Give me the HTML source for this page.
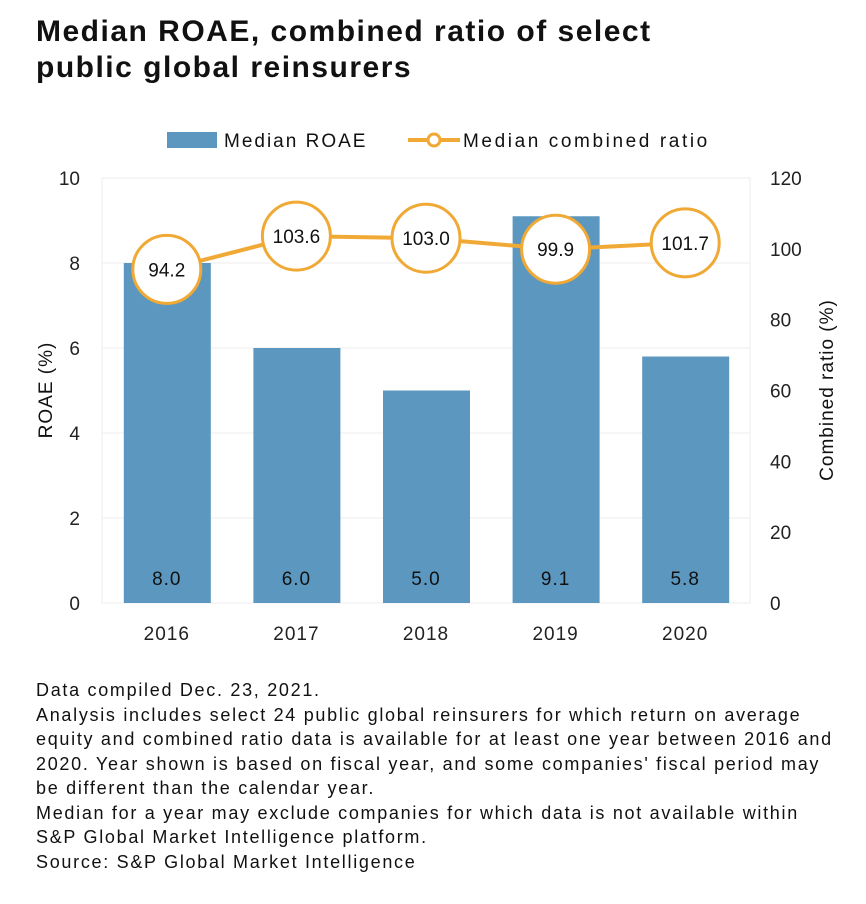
<!DOCTYPE html>
<html><head><meta charset="utf-8"><style>
body{margin:0;background:#fff;font-family:"Liberation Sans",sans-serif;}
#wrap{position:relative;width:866px;height:904px;overflow:hidden;}
h1{position:absolute;left:36px;top:14px;margin:0;font-size:30px;line-height:36px;font-weight:bold;color:#111;letter-spacing:1.5px;}
.notes{position:absolute;left:36px;top:678px;font-size:18px;line-height:24.5px;color:#111;white-space:nowrap;letter-spacing:1.7px;}
</style></head><body><div id="wrap">
<h1>Median ROAE, combined ratio of select<br>public global reinsurers</h1>
<svg id="chart" width="866" height="680" style="position:absolute;left:0;top:0"></svg>
<div class="notes">Data compiled Dec. 23, 2021.<br>Analysis includes select 24 public global reinsurers for which return on average<br>equity and combined ratio data is available for at least one year between 2016 and<br>2020. Year shown is based on fiscal year, and some companies' fiscal period may<br>be different than the calendar year.<br>Median for a year may exclude companies for which data is not available within<br>S&amp;P Global Market Intelligence platform.<br>Source: S&amp;P Global Market Intelligence</div>
</div>
<script>
const categories=["2016","2017","2018","2019","2020"];
const roae=[8.0,6.0,5.0,9.1,5.8];
const combined=[94.2,103.6,103.0,99.9,101.7];
const leftTicks=[0,2,4,6,8,10];
const rightTicks=[0,20,40,60,80,100,120];
const NS="http://www.w3.org/2000/svg";
const svg=document.getElementById('chart');
const X0=102,X1=750,Y0=603,Y1=178;
const yL=v=>Y0-(v/10)*(Y0-Y1);
const yR=v=>Y0-(v/120)*(Y0-Y1);
const bw=(X1-X0)/categories.length;
const xc=i=>X0+bw*(i+0.5);
function mk(t,a,txt){const e=document.createElementNS(NS,t);for(const k in a)e.setAttribute(k,a[k]);if(txt!==undefined)e.textContent=txt;svg.appendChild(e);return e;}
let e;
e=mk('rect',{x:X0,y:Y1,width:X1-X0,height:Y0-Y1,fill:'none',stroke:'#eee'});


leftTicks.forEach(v=>{
 e=mk('line',{x1:X0,x2:X1,y1:yL(v),y2:yL(v),stroke:'#eee'});
 
 
 e=mk('text',{x:80,y:yL(v)+7,'text-anchor':'end','font-size':19,fill:'#222'},v);
 
 
});
rightTicks.forEach(v=>{
 e=mk('text',{x:770,y:yR(v)+7,'font-size':19,fill:'#222'},v);
 
 
});
categories.forEach((c,i)=>{
 e=mk('rect',{x:xc(i)-43,y:yL(roae[i]),width:87,height:Y0-yL(roae[i]),fill:'#5b97be'});
 
 
 e=mk('text',{x:xc(i),y:585,'text-anchor':'middle','font-size':19,fill:'#111','letter-spacing':1},roae[i].toFixed(1));
 
 
 e=mk('text',{x:xc(i),y:640,'text-anchor':'middle','font-size':19,fill:'#222','letter-spacing':1},c);
 
 
});
e=mk('polyline',{points:combined.map((v,i)=>xc(i)+','+yR(v)).join(' '),fill:'none',stroke:'#f0a935','stroke-width':4});


combined.forEach((v,i)=>{
 e=mk('circle',{cx:xc(i),cy:yR(v),r:34,fill:'#fff',stroke:'#f0a935','stroke-width':3});
 
 
 e=mk('text',{x:xc(i),y:yR(v)+7,'text-anchor':'middle','font-size':19,fill:'#111'},v.toFixed(1));
 
 
});
e=mk('text',{transform:'translate(52,390) rotate(-90)','text-anchor':'middle','font-size':19,fill:'#111','letter-spacing':1},'ROAE (%)');


e=mk('text',{transform:'translate(833,390) rotate(-90)','text-anchor':'middle','font-size':19,fill:'#111','letter-spacing':1},'Combined ratio (%)');


e=mk('rect',{x:167,y:132,width:50,height:16,fill:'#5b97be'});


e=mk('text',{x:224,y:147,'font-size':19,fill:'#111','letter-spacing':2},'Median ROAE');


e=mk('line',{x1:408,x2:460,y1:140,y2:140,stroke:'#f0a935','stroke-width':4});


e=mk('circle',{cx:434,cy:140,r:6,fill:'#fff',stroke:'#f0a935','stroke-width':3});


e=mk('text',{x:463,y:147,'font-size':19,fill:'#111','letter-spacing':2.6},'Median combined ratio');


</script></body></html>
